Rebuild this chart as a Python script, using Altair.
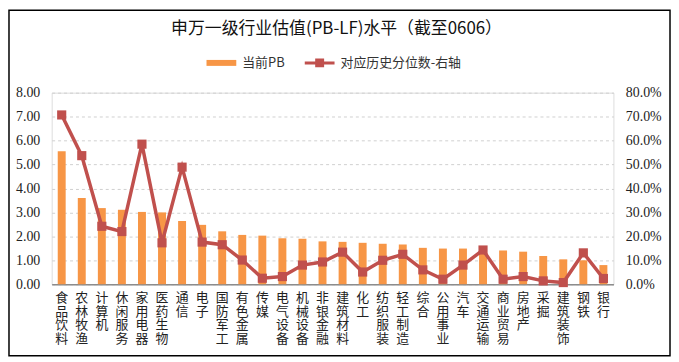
import altair as alt
import pandas as pd

categories = ["食品饮料", "农林牧渔", "计算机", "休闲服务", "家用电器", "医药生物", "通信", "电子",
              "国防军工", "有色金属", "传媒", "电气设备", "机械设备", "非银金融", "建筑材料", "化工",
              "纺织服装", "轻工制造", "综合", "公用事业", "汽车", "交通运输", "商业贸易", "房地产",
              "采掘", "建筑装饰", "钢铁", "银行"]
pb_values = [5.55, 3.60, 3.18, 3.11, 3.02, 3.00, 2.64, 2.48, 2.21, 2.06, 2.03, 1.92, 1.90, 1.79,
             1.77, 1.73, 1.69, 1.66, 1.52, 1.49, 1.49, 1.45, 1.41, 1.36, 1.18, 1.04, 1.00, 0.80]
pct_values = [70.7, 53.7, 24.2, 22.0, 58.5, 17.3, 48.9, 17.6, 16.5, 10.1, 2.5, 3.2, 8.0, 9.3,
              13.4, 5.1, 10.0, 12.5, 6.0, 2.1, 8.0, 14.3, 2.1, 3.2, 1.4, 0.7, 13.1, 2.4]
series_names = ["当前PB", "对应历史分位数-右轴"]
series_colors = ["#F79646", "#C0504D"]

df = pd.DataFrame({"industry": categories, "pb": pb_values,
                   "pct": [v / 100 for v in pct_values]})

W, H = 566, 193
PAD = {"left": 44, "top": 84, "right": 58, "bottom": 73}
CJK = "Noto Sans CJK SC"
NUM = "Liberation Serif"

color_scale = alt.Scale(domain=series_names, range=series_colors)
legend = alt.Legend(
    title=None, orient="none", legendX=156, legendY=-45, direction="horizontal",
    symbolType=alt.ExprRef(expr="datum.value == '当前PB' ? 'M-1,-0.2H1V0.2H-1Z' : 'M-1,-0.1H1V0.1H-1Z M-0.3,-0.3H0.3V0.3H-0.3Z'"),
    symbolFillColor=alt.ExprRef(expr="datum.value == '当前PB' ? '#F79646' : '#C0504D'"),
    symbolStrokeWidth=0, symbolOpacity=1,
    symbolSize=900, labelFont=CJK, labelFontSize=13,
    labelColor="#333333", labelOffset=6, columnPadding=20,
)

x_enc = alt.X("industry:N", sort=categories, title=None,
              scale=alt.Scale(paddingInner=0, paddingOuter=0),
              axis=alt.Axis(labelExpr="split(datum.label, '')", labelAngle=0, labelAlign="center",
                            labelBaseline="top", labelLineHeight=14, labelFont=CJK, labelFontSize=13,
                            labelColor="#222222", labelPadding=7, ticks=False, domainColor="#8C8C8C",
                            domainWidth=1.5, labelOverlap=False, labelBound=False, grid=False))

base = alt.Chart(df)

bars = base.mark_bar(size=8).encode(
    x=x_enc,
    y=alt.Y("pb:Q", title=None, scale=alt.Scale(domain=[0, 8]),
            axis=alt.Axis(values=[0, 1, 2, 3, 4, 5, 6, 7, 8], format=".2f", labelFont=NUM,
                          labelFontSize=14, labelColor="#222222", labelPadding=12, ticks=False,
                          domain=False, grid=True, gridColor="#D0D0D0", gridDash=[3, 3])),
    color=alt.Color("s:N", scale=color_scale, legend=legend),
).transform_calculate(s="'当前PB'")

line = base.mark_line(strokeWidth=3.5, point=alt.OverlayMarkDef(shape="square", size=85, filled=True, opacity=1)).encode(
    x=x_enc,
    y=alt.Y("pct:Q", title=None, scale=alt.Scale(domain=[0, 0.8]),
            axis=alt.Axis(orient="right", values=[0, 0.1, 0.2, 0.3, 0.4, 0.5, 0.6, 0.7, 0.8],
                          format=".1%", labelFont=NUM, labelFontSize=14, labelColor="#222222",
                          labelPadding=12, ticks=False, domain=False, grid=False)),
    color=alt.Color("s:N", scale=color_scale, legend=legend),
).transform_calculate(s="'对应历史分位数-右轴'")

border = alt.Chart(pd.DataFrame({"a": [0]})).mark_rect(fill=None, stroke="#000000", strokeWidth=1.5).encode(
    x=alt.value(-PAD["left"] + 1), x2=alt.value(W + PAD["right"] - 1),
    y=alt.value(-PAD["top"] + 1), y2=alt.value(H + PAD["bottom"] - 1),
)

chart = alt.layer(bars, line, border).resolve_scale(y="independent").properties(
    width=W, height=H,
    autosize=alt.AutoSizeParams(type="none"),
    padding=PAD,
    title=alt.TitleParams("申万一级行业估值(PB-LF)水平（截至0606）", font=CJK, fontSize=17,
                          fontWeight="normal", color="#111111", anchor="middle", offset=12,
                          baseline="bottom", dy=58, dx=4),
).configure_view(stroke=None).configure(background="#FFFFFF")

chart.save("out.html", embed_options={"renderer": "svg", "actions": False})
